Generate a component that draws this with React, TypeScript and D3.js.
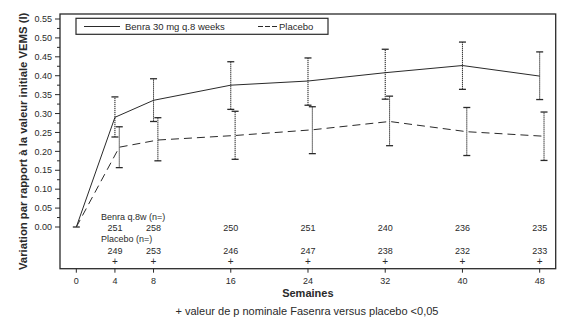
import React from "react";
import * as d3 from "d3";

const weeks = [0, 4, 8, 16, 24, 32, 40, 48];
const benraMean = [0.0, 0.29, 0.335, 0.375, 0.386, 0.408, 0.427, 0.399];
const benraLow = [null, 0.238, 0.279, 0.311, 0.322, 0.338, 0.364, 0.337];
const benraHigh = [null, 0.344, 0.392, 0.437, 0.447, 0.47, 0.489, 0.463];
const placeboMean = [0.0, 0.211, 0.23, 0.242, 0.257, 0.279, 0.252, 0.24];
const placeboLow = [null, 0.157, 0.175, 0.179, 0.194, 0.215, 0.189, 0.176];
const placeboHigh = [null, 0.265, 0.289, 0.306, 0.318, 0.346, 0.316, 0.304];
const benraN = ["", "251", "258", "250", "251", "240", "236", "235"];
const placeboN = ["", "249", "253", "246", "247", "238", "232", "233"];
const signif = ["", "+", "+", "+", "+", "+", "+", "+"];
const yTicks = [0, 0.05, 0.1, 0.15, 0.2, 0.25, 0.3, 0.35, 0.4, 0.45, 0.5, 0.55];

const W = 586, H = 328;
const L = 60, R = 555.7, T = 14, B = 268.7;
const font = "'Liberation Sans', Arial, Helvetica, sans-serif";
const ink = "#2a2a2a";

export default function App() {
  const x = d3.scaleLinear().domain([-1.69, 49.66]).range([L, R]);
  const y = d3.scaleLinear().domain([0, 0.55]).range([227, 19]);
  const off = 0.45;
  const line = d3.line<[number, number]>().x(d => d[0]).y(d => d[1]);
  const benraPts: [number, number][] = weeks.map((w, i) => [x(w), y(benraMean[i])]);
  const placPts: [number, number][] = weeks.map((w, i) => [x(w === 0 ? 0 : w + off), y(placeboMean[i])]);
  const minor = d3.range(0.025, 0.55, 0.05);

  const errBar = (cx: number, lo: number, hi: number, key: string) => (
    <g key={key}>
      <line x1={cx} x2={cx} y1={y(lo)} y2={y(hi)} stroke="#111" strokeWidth={1} strokeDasharray="1.2,0.8" />
      <line x1={cx - 3.5} x2={cx + 3.5} y1={y(lo)} y2={y(lo)} stroke={ink} strokeWidth={1.3} />
      <line x1={cx - 3.5} x2={cx + 3.5} y1={y(hi)} y2={y(hi)} stroke={ink} strokeWidth={1.3} />
    </g>
  );

  return (
    <svg width={W} height={H} style={{ position: "absolute", left: 0, top: 0, background: "#fff" }} fontFamily={font}>
      <rect x={0} y={0} width={W} height={H} fill="#fff" />
      {/* frame */}
      <rect x={L} y={T} width={R - L} height={B - T} fill="none" stroke={ink} strokeWidth={1.3} />
      {/* y ticks */}
      {yTicks.map(t => (
        <g key={"yt" + t}>
          <line x1={L - 5} x2={L} y1={y(t)} y2={y(t)} stroke={ink} strokeWidth={1} />
          <text x={L - 8} y={y(t)} dy="0.35em" textAnchor="end" fontSize={9} fill={ink}>{t.toFixed(2)}</text>
        </g>
      ))}
      {minor.map(t => (
        <line key={"ym" + t} x1={L - 3} x2={L} y1={y(t)} y2={y(t)} stroke={ink} strokeWidth={1} />
      ))}
      {/* x ticks */}
      {weeks.map(w => (
        <g key={"xt" + w}>
          <line x1={x(w)} x2={x(w)} y1={B} y2={B + 4} stroke={ink} strokeWidth={1} />
          <text x={x(w)} y={B + 15} textAnchor="middle" fontSize={9} fill={ink}>{w}</text>
        </g>
      ))}
      <text x={(L + R) / 2} y={297} textAnchor="middle" fontSize={11} fontWeight="bold" fill={ink}>Semaines</text>
      <text x={307} y={315} textAnchor="middle" fontSize={11} fill={ink}>+ valeur de p nominale Fasenra versus placebo &lt;0,05</text>
      <text transform={`translate(27,${(T + B) / 2}) rotate(-90)`} textAnchor="middle" fontSize={11.3} fontWeight="bold" fill={ink}>
        Variation par rapport à la valeur initiale VEMS (l)
      </text>
      {/* lines */}
      <path d={line(benraPts) || ""} fill="none" stroke={ink} strokeWidth={1} />
      <path d={line(placPts) || ""} fill="none" stroke={ink} strokeWidth={1} strokeDasharray="8,5" />
      {/* baseline marker at 0 */}
      <line x1={x(0) - 3.5} x2={x(0) + 3.5} y1={y(0)} y2={y(0)} stroke={ink} strokeWidth={1.3} />
      {weeks.map((w, i) => benraLow[i] == null ? null : errBar(x(w), benraLow[i] as number, benraHigh[i] as number, "be" + i))}
      {weeks.map((w, i) => placeboLow[i] == null ? null : errBar(x(w + off), placeboLow[i] as number, placeboHigh[i] as number, "pe" + i))}
      {/* n table */}
      <text x={101} y={220} fontSize={9} fill={ink}>Benra q.8w (n=)</text>
      <text x={101} y={242} fontSize={9} fill={ink}>Placebo (n=)</text>
      {weeks.map((w, i) => (
        <g key={"n" + i}>
          <text x={x(w)} y={231} textAnchor="middle" fontSize={9} fill={ink}>{benraN[i]}</text>
          <text x={x(w)} y={254} textAnchor="middle" fontSize={9} fill={ink}>{placeboN[i]}</text>
          <text x={x(w)} y={265} textAnchor="middle" fontSize={10} fill={ink}>{signif[i]}</text>
        </g>
      ))}
      {/* legend */}
      <rect x={76} y={18.3} width={252} height={16} fill="#fff" stroke={ink} strokeWidth={1.2} />
      <line x1={84} x2={120} y1={26.5} y2={26.5} stroke={ink} strokeWidth={1} />
      <text x={125} y={26.5} dy="0.35em" fontSize={9.5} fill={ink}>Benra 30 mg q.8 weeks</text>
      <line x1={258} x2={277} y1={26.5} y2={26.5} stroke={ink} strokeWidth={1} strokeDasharray="5,2" />
      <text x={279} y={26.5} dy="0.35em" fontSize={9.5} fill={ink}>Placebo</text>
    </svg>
  );
}
